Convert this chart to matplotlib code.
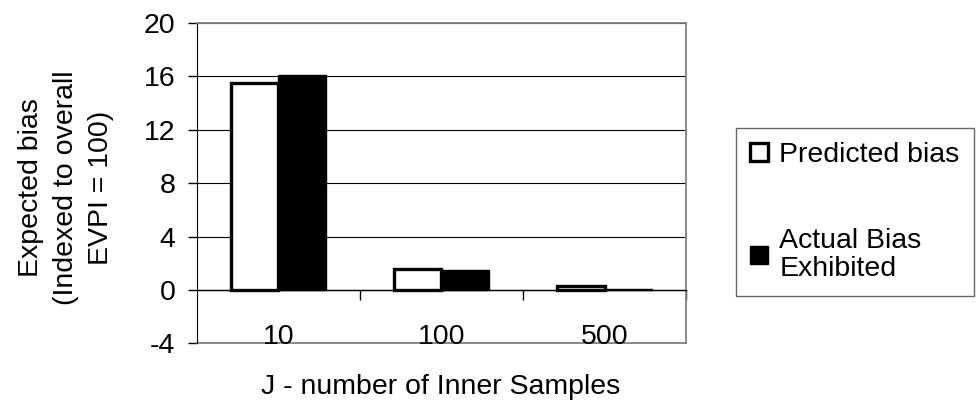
import numpy as np
import matplotlib.pyplot as plt
from matplotlib.patches import Patch

plt.rcParams['font.family'] = ['Liberation Sans', 'DejaVu Sans']
plt.rcParams['axes.unicode_minus'] = False

categories = ["10", "100", "500"]
predicted = [15.5, 1.55, 0.3]
actual = [16.1, 1.5, 0.05]

fs = 20.5

fig = plt.figure(figsize=(9.76, 4.12), dpi=100)
ax = fig.add_axes([0.2018, 0.1663, 0.5011, 0.7787])

x = np.arange(len(categories))
w = 0.29
ax.bar(x - w / 2, predicted, w, color="white", edgecolor="black", linewidth=2.4, zorder=3)
ax.bar(x + w / 2, actual, w, color="black", edgecolor="black", linewidth=1, zorder=3)

ax.set_xlim(-0.5, 2.5)
ax.set_ylim(-4, 20)
ax.set_yticks(np.arange(-4, 21, 4))
ax.yaxis.grid(True, color="black", linewidth=0.8)
ax.set_axisbelow(True)
ax.tick_params(axis="y", labelsize=fs, length=6.5, pad=9, direction="out", width=1)

# category axis crosses at 0, labels sit low
ax.spines["bottom"].set_position(("data", 0))
ax.spines["bottom"].set_linewidth(1)
ax.set_xticks([])
ax.set_xticks([0.5, 1.5, 2.5], minor=True)
ax.tick_params(axis="x", which="minor", length=7, direction="out", width=1)
for i, c in enumerate(categories):
    ax.text(x[i], -3.55, c, ha="center", va="center", fontsize=fs)

for s in ["top", "right"]:
    ax.spines[s].set_color("#808080")
    ax.spines[s].set_linewidth(1.3)
ax.axhline(-4, color="#808080", linewidth=1.3, clip_on=False, zorder=1)

fig.text(66 / 976, 1 - 188 / 412, "Expected bias\n(Indexed to overall\nEVPI = 100)",
         rotation=90, ha="center", va="center", fontsize=fs, linespacing=1.45,
         multialignment="center")
fig.text(441 / 976, 1 - 387 / 412, "J - number of Inner Samples",
         ha="center", va="center", fontsize=fs)

handles = [Patch(facecolor="white", edgecolor="black", linewidth=2.4),
           Patch(facecolor="black", edgecolor="black")]
leg = fig.legend(handles, ["Predicted bias", "Actual Bias\nExhibited"],
                 loc="upper left", bbox_to_anchor=(736 / 976, 1 - 128 / 412),
                 fontsize=fs, frameon=True, fancybox=False, labelspacing=2.1,
                 handlelength=0.62, handleheight=0.62, handletextpad=0.4,
                 borderpad=0.5, borderaxespad=0)
leg.get_texts()[1].set_linespacing(1.1)
leg.get_frame().set_edgecolor("#404040")
leg.get_frame().set_linewidth(1)

fig.savefig("out.png", dpi=100)
